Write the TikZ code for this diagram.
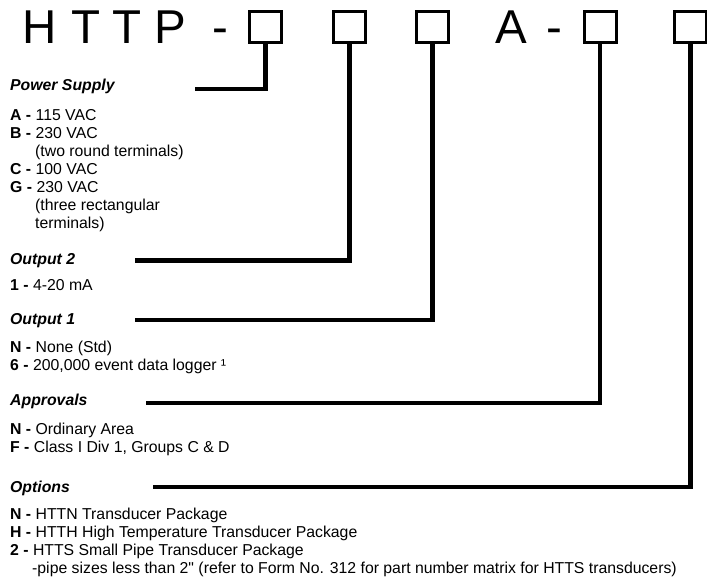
\documentclass[tikz,border=0pt]{standalone}
\usepackage{fontspec}
\setmainfont{Liberation Sans}
\usetikzlibrary{positioning}
\tikzset{
  code/.style={font=\fontsize{47.5}{50}\selectfont, inner sep=0pt, anchor=base},
  slot/.style={draw, line width=3pt, minimum width=32pt, minimum height=31pt, inner sep=0pt},
  lead/.style={line width=4.2pt},
  head/.style={font=\fontsize{15.8}{18}\selectfont\bfseries\itshape, inner sep=0pt, anchor=base west},
  items/.style={font=\fontsize{15.8}{18}\selectfont, inner sep=0pt, anchor=north west, align=left},
}
\newcommand{\pick}[1]{\textbf{#1 -}}
\newcommand{\indnt}{\hspace*{25pt}}

\begin{document}
\begin{tikzpicture}[x=1pt,y=-1pt]
\useasboundingbox (0,0) rectangle (707,577);
% part number
\node[code] (cH) at (40,44) {H};
\node[code] (cT1) at (86,44) {T};
\node[code] (cT2) at (127.5,44) {T};
\node[code] (cP) at (170.7,44) {P};
\node[code] (cd1) at (220,44) {-};
\node[code] (cA) at (511.5,44) {A};
\node[code] (cd2) at (554,44) {-};
\node[slot] (s1) at (265.5,27) {};
\node[slot] (s2) at (349.5,27) {};
\node[slot] (s3) at (432.5,27) {};
\node[slot] (s4) at (600,27) {};
\node[slot] (s5) at (690.5,27) {};

% groups
\node[head] (ps) at (10,91) {Power Supply};
\node[items] (psl) at (10,108.8)
  {\pick{A} 115 VAC\\ \pick{B} 230 VAC\\ \indnt(two round terminals)\\
   \pick{C} 100 VAC\\ \pick{G} 230 VAC\\ \indnt(three rectangular\\ \indnt terminals)};
\node[head] (o2) at (10,265) {Output 2};
\node[items] (o2l) at (10,278.8) {\pick{1} 4-20 mA};
\node[head] (o1) at (10,325) {Output 1};
\node[items] (o1l) at (10,340.8)
  {\pick{N} None (Std)\\ \pick{6} 200,000 event data logger ¹};
\node[head] (ap) at (10,405) {Approvals};
\node[items] (apl) at (10,422.5)
  {\pick{N} Ordinary Area\\ \pick{F} Class I Div 1, Groups C \& D};
\node[head] (op) at (10,492) {Options};
\node[items] (opl) at (10,507.5)
  {\pick{N} HTTN Transducer Package\\ \pick{H} HTTH High Temperature Transducer Package\\
   \pick{2} HTTS Small Pipe Transducer Package\\
   \hspace*{22pt}-pipe sizes less than 2\textquotedbl{} (refer to Form No. 312 for part number matrix for HTTS transducers)};

% leaders
\coordinate (psend) at (195,89);
\coordinate (o2end) at (135,260.5);
\coordinate (o1end) at (135,320);
\coordinate (apend) at (146,403);
\coordinate (opend) at (153,487);
\draw[lead] (s1.south) |- (psend);
\draw[lead] (s2.south) |- (o2end);
\draw[lead] (s3.south) |- (o1end);
\draw[lead] (s4.south) |- (apend);
\draw[lead] (s5.south) |- (opend);
\end{tikzpicture}
\end{document}
